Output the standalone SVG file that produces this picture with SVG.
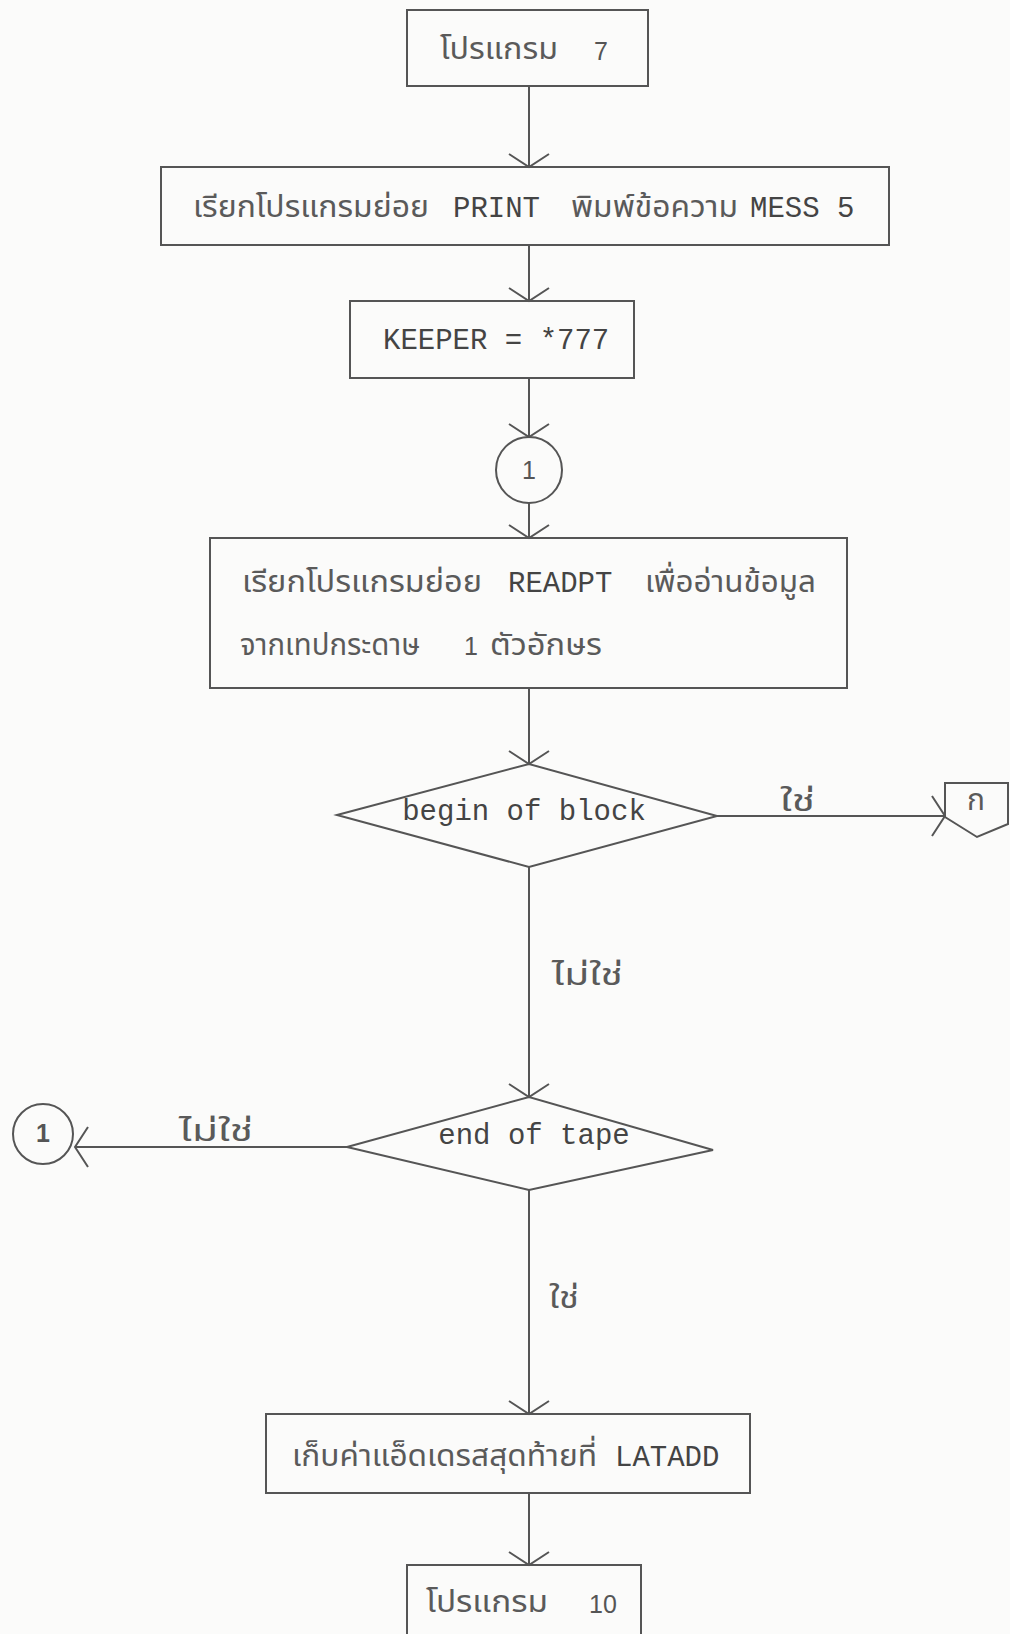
<svg xmlns="http://www.w3.org/2000/svg" width="1010" height="1634" viewBox="0 0 1010 1634">
  <style>
    .shape { fill: none; stroke: #555; stroke-width: 2; }
    .conn { fill: none; stroke: #555; stroke-width: 2; }
    .th { font-family: "Tlwg Typo", "Noto Sans Thai", "Noto Serif Thai", "Loma", "Garuda", "Noto Sans", sans-serif; font-size: 30px; fill: #5a5a5a; }
    .mono { font-family: "Liberation Mono", "Courier New", monospace; font-size: 29px; fill: #444; }
    .num { font-family: "Liberation Sans", Arial, sans-serif; font-size: 25px; fill: #555; text-anchor: middle; }
  </style>
  <defs>
    <marker id="arr" markerUnits="userSpaceOnUse" markerWidth="30" markerHeight="46" refX="15" refY="22" orient="auto" overflow="visible">
      <path d="M2,2 L15,22 L2,42" fill="none" stroke="#555" stroke-width="2"/>
    </marker>
  </defs>
  <rect width="1010" height="1634" fill="#fbfbfa"/>

  <g id="connectors">
    <line class="conn" x1="529" y1="86" x2="529" y2="167" marker-end="url(#arr)"/>
    <line class="conn" x1="529" y1="245" x2="529" y2="301" marker-end="url(#arr)"/>
    <line class="conn" x1="529" y1="378" x2="529" y2="437" marker-end="url(#arr)"/>
    <line class="conn" x1="529" y1="503" x2="529" y2="538" marker-end="url(#arr)"/>
    <line class="conn" x1="529" y1="688" x2="529" y2="764" marker-end="url(#arr)"/>
    <line class="conn" x1="717" y1="816" x2="945" y2="816" marker-end="url(#arr)"/>
    <line class="conn" x1="529" y1="867" x2="529" y2="1097" marker-end="url(#arr)"/>
    <line class="conn" x1="347" y1="1147" x2="75" y2="1147" marker-end="url(#arr)"/>
    <line class="conn" x1="529" y1="1190" x2="529" y2="1414" marker-end="url(#arr)"/>
    <line class="conn" x1="529" y1="1493" x2="529" y2="1565" marker-end="url(#arr)"/>
    <text class="th" x="780" y="811" textLength="35" lengthAdjust="spacingAndGlyphs">ใช่</text>
    <text class="th" x="552" y="985" textLength="71" lengthAdjust="spacingAndGlyphs">ไม่ใช่</text>
    <text class="th" x="179" y="1141" textLength="74" lengthAdjust="spacingAndGlyphs">ไม่ใช่</text>
    <text class="th" x="549" y="1308" textLength="30" lengthAdjust="spacingAndGlyphs">ใช่</text>
  </g>

  <g id="start">
    <rect class="shape" x="407" y="10" width="241" height="76"/>
    <text class="th" x="440" y="59" textLength="118" lengthAdjust="spacingAndGlyphs">โปรแกรม</text>
    <text class="num" x="601" y="60" font-size="28">7</text>
  </g>

  <g id="print">
    <rect class="shape" x="161" y="167" width="728" height="78"/>
    <text class="th" x="193" y="217" textLength="236" lengthAdjust="spacingAndGlyphs">เรียกโปรแกรมย่อย</text>
    <text class="mono" x="453" y="217">PRINT</text>
    <text class="th" x="571" y="217" textLength="167" lengthAdjust="spacingAndGlyphs">พิมพ์ข้อความ</text>
    <text class="mono" x="750" y="217">MESS 5</text>
  </g>

  <g id="keeper">
    <rect class="shape" x="350" y="301" width="284" height="77"/>
    <text class="mono" x="383" y="349">KEEPER = *777</text>
  </g>

  <g id="conn1">
    <circle class="shape" cx="529" cy="470" r="33"/>
    <text class="num" x="529" y="479">1</text>
  </g>

  <g id="readpt">
    <rect class="shape" x="210" y="538" width="637" height="150"/>
    <text class="th" x="242" y="592" textLength="240" lengthAdjust="spacingAndGlyphs">เรียกโปรแกรมย่อย</text>
    <text class="mono" x="508" y="592">READPT</text>
    <text class="th" x="645" y="592" textLength="171" lengthAdjust="spacingAndGlyphs">เพื่ออ่านข้อมูล</text>
    <text class="th" x="240" y="655" textLength="180" lengthAdjust="spacingAndGlyphs">จากเทปกระดาษ</text>
    <text class="num" x="471" y="655">1</text>
    <text class="th" x="490" y="655" textLength="112" lengthAdjust="spacingAndGlyphs">ตัวอักษร</text>
  </g>

  <g id="begin">
    <polygon class="shape" points="337,815 529,764 717,816 529,867"/>
    <text class="mono" x="524" y="820" text-anchor="middle">begin of block</text>
  </g>

  <g id="offpage">
    <polygon class="shape" points="945,783 1008,783 1008,824 977,837 945,817"/>
    <text class="th" x="976" y="810" text-anchor="middle" font-size="24">ก</text>
  </g>

  <g id="endtape">
    <polygon class="shape" points="347,1147 529,1097 713,1150 529,1190"/>
    <text class="mono" x="534" y="1144" text-anchor="middle">end of tape</text>
  </g>

  <g id="conn1b">
    <circle class="shape" cx="43" cy="1134" r="30"/>
    <text class="num" x="43" y="1142" font-weight="bold" font-size="22">1</text>
  </g>

  <g id="latadd">
    <rect class="shape" x="266" y="1414" width="484" height="79"/>
    <text class="th" x="292" y="1466" textLength="305" lengthAdjust="spacingAndGlyphs">เก็บค่าแอ็ดเดรสสุดท้ายที่</text>
    <text class="mono" x="615" y="1466">LATADD</text>
  </g>

  <g id="end">
    <rect class="shape" x="407" y="1565" width="234" height="100"/>
    <text class="th" x="426" y="1612" textLength="122" lengthAdjust="spacingAndGlyphs">โปรแกรม</text>
    <text class="num" x="603" y="1613" font-size="28">10</text>
  </g>
</svg>
